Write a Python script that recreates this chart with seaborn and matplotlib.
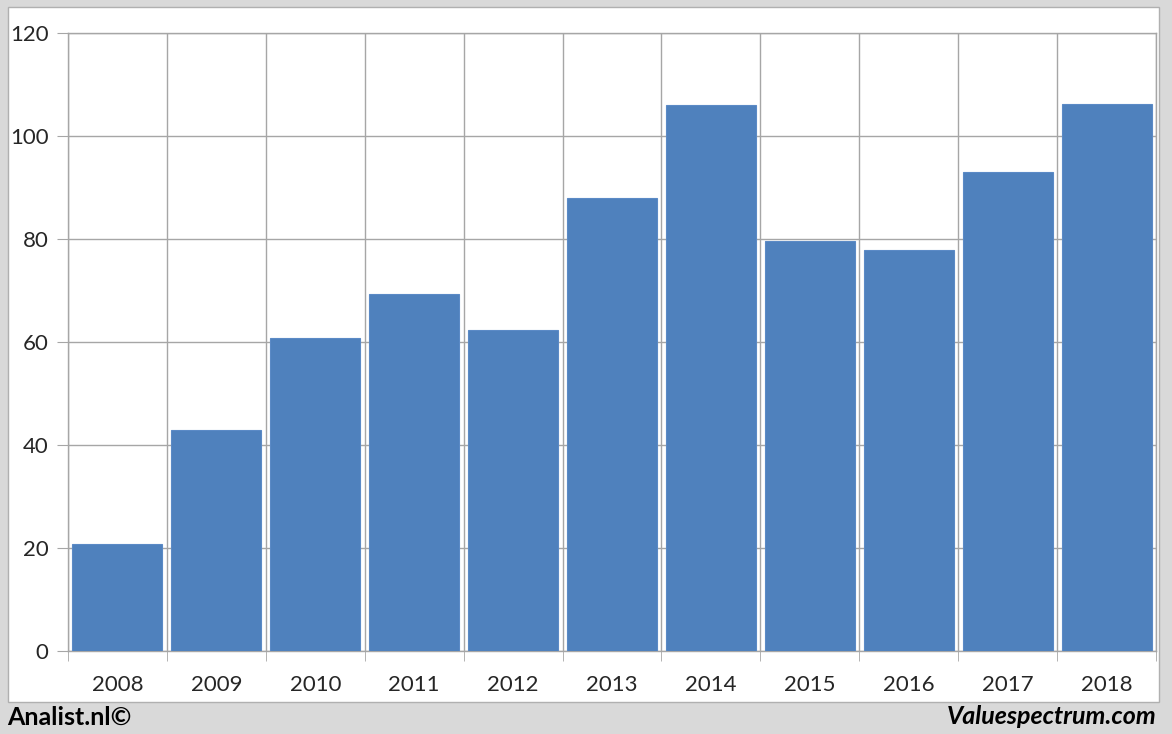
import matplotlib
matplotlib.use("Agg")
import matplotlib.pyplot as plt
import matplotlib.patches as mpatches
import pandas as pd
import seaborn as sns

years = ["2008", "2009", "2010", "2011", "2012", "2013", "2014", "2015", "2016", "2017", "2018"]
values = [20.8, 43.0, 60.7, 69.4, 62.4, 88.0, 106.0, 79.7, 77.9, 93.1, 106.2]
yticks = [0, 20, 40, 60, 80, 100, 120]

df = pd.DataFrame({"year": years, "value": values})

sns.set_style("white")
plt.rcParams["font.family"] = ["Lato", "DejaVu Sans"]

W, H = 1172, 734
fig = plt.figure(figsize=(W / 100, H / 100), dpi=100)
fig.patch.set_facecolor("#d9d9d9")

# white chart panel, behind the axes
panel = mpatches.Rectangle(
    (8 / W, 1 - 702 / H), (1159 - 8) / W, (702 - 7) / H,
    transform=fig.transFigure, facecolor="white", edgecolor="#b0b0b0", lw=1, zorder=-10,
)
fig.patches.append(panel)

ax = fig.add_axes([68 / W, 1 - 651 / H, (1156 - 68) / W, (651 - 33) / H])
ax.set_facecolor("white")

sns.barplot(data=df, x="year", y="value", color="#4f81bd", saturation=1,
            width=0.91, edgecolor="#5b8ac6", linewidth=0.8, ax=ax, zorder=3)

ax.set_xlim(-0.5, len(years) - 0.5)
ax.set_ylim(0, 120)
ax.set_yticks(yticks)
ax.set_yticklabels([str(v) for v in yticks], fontsize=16)
ax.set_xticks(range(len(years)))
ax.set_xticklabels(years, fontsize=16)
ax.set_xticks([i - 0.5 for i in range(len(years) + 1)], minor=True)

ax.grid(axis="y", which="major", color="#a6a6a6", lw=1, zorder=0)
ax.grid(axis="x", which="minor", color="#a6a6a6", lw=1, zorder=0)
ax.set_axisbelow(True)

ax.tick_params(axis="x", which="major", length=0, pad=17)
ax.tick_params(axis="x", which="minor", length=7, color="#a6a6a6", direction="out", bottom=True)
ax.tick_params(axis="y", which="major", length=8, color="#a6a6a6", direction="out", left=True, pad=6)

for s in ax.spines.values():
    s.set_color("#a6a6a6")
    s.set_linewidth(1)

ax.set_xlabel("")
ax.set_ylabel("")

fig.text(7 / W, 1 - 717 / H, "Analist.nl©", fontsize=18, fontweight="bold",
         ha="left", va="center", color="black")
fig.text(1157 / W, 1 - 717 / H, "Valuespectrum.com", fontsize=18, fontweight="bold",
         fontstyle="italic", ha="right", va="center", color="black")

fig.savefig("out.png", dpi=100, facecolor=fig.get_facecolor())
